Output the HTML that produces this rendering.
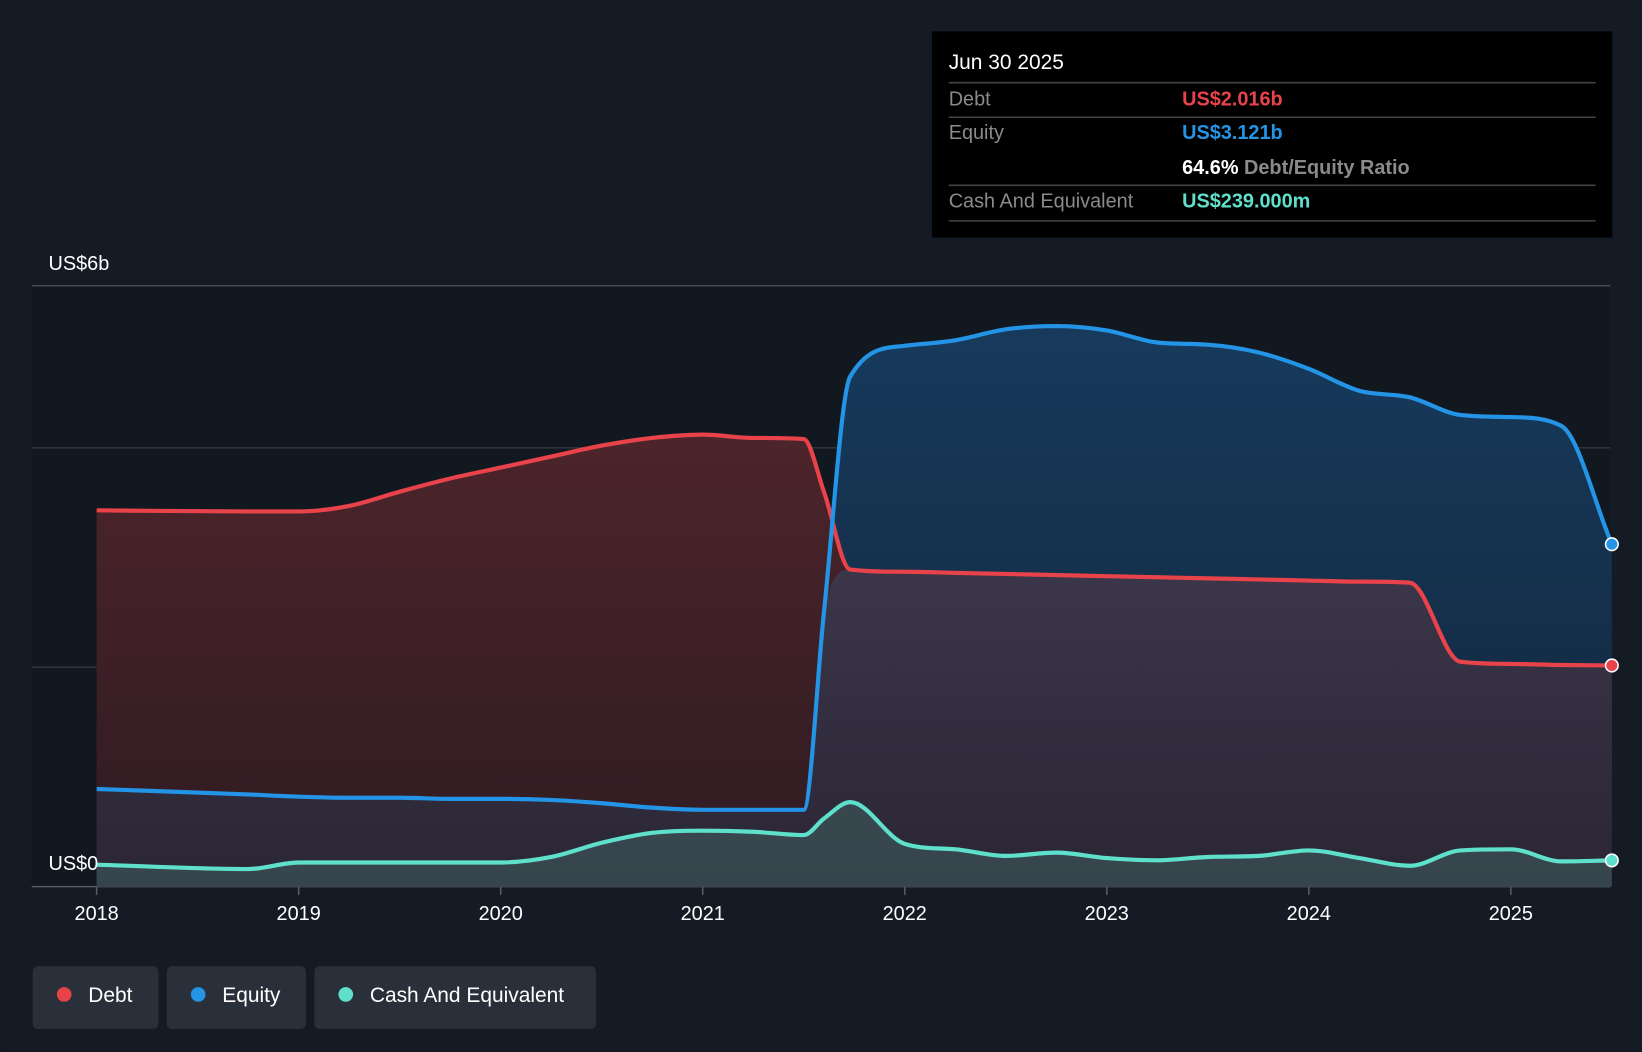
<!DOCTYPE html>
<html><head><meta charset="utf-8"><style>
html,body{margin:0;padding:0;background:#151b24;width:1642px;height:1052px;overflow:hidden}
svg{display:block;font-family:"Liberation Sans",sans-serif}
</style></head><body>
<svg id="chart" width="1642" height="1052" viewBox="0 0 1568 1005">
<defs>
<linearGradient id="gDebt" gradientUnits="userSpaceOnUse" x1="0" y1="415" x2="0" y2="847"><stop offset="0" stop-color="#4d242b"/><stop offset="1" stop-color="#2d1b21"/></linearGradient>
<linearGradient id="gEq" gradientUnits="userSpaceOnUse" x1="0" y1="310" x2="0" y2="847"><stop offset="0" stop-color="#173a5c"/><stop offset="1" stop-color="#11263a"/></linearGradient>
<linearGradient id="gBoth" gradientUnits="userSpaceOnUse" x1="0" y1="540" x2="0" y2="847"><stop offset="0" stop-color="#3b3649"/><stop offset="1" stop-color="#2a2635"/></linearGradient>
</defs>
<rect x="0" y="0" width="1568" height="1005" fill="#151b24"/>
<rect x="30" y="273" width="1508" height="574" fill="#121820"/>
<g id="grid"></g>
<g id="areas"></g>
<g id="lines"></g>
<g id="xaxis"></g>
<text x="46" y="258" fill="#fff" font-size="19">US$6b</text>
<text x="46" y="831" fill="#fff" font-size="19">US$0</text>
<g>
<rect x="890" y="30" width="650" height="197" fill="#000"/>
<text x="906" y="66" fill="#fff" font-size="20">Jun 30 2025</text>
<line x1="906" y1="79" x2="1524" y2="79" stroke="#444" stroke-width="1.5"/>
<text x="906" y="101" fill="#8a8a8a" font-size="19">Debt</text>
<text x="1129" y="101" fill="#e8434a" font-size="19" font-weight="bold">US$2.016b</text>
<line x1="906" y1="112" x2="1524" y2="112" stroke="#444" stroke-width="1.5"/>
<text x="906" y="133" fill="#8a8a8a" font-size="19">Equity</text>
<text x="1129" y="133" fill="#2394e6" font-size="19" font-weight="bold">US$3.121b</text>
<text x="1129" y="166" fill="#fff" font-size="19" font-weight="bold">64.6% <tspan fill="#8a8a8a">Debt/Equity Ratio</tspan></text>
<line x1="906" y1="177" x2="1524" y2="177" stroke="#444" stroke-width="1.5"/>
<text x="906" y="198" fill="#8a8a8a" font-size="19">Cash And Equivalent</text>
<text x="1129" y="198" fill="#5ee0cc" font-size="19" font-weight="bold">US$239.000m</text>
<line x1="906" y1="211" x2="1524" y2="211" stroke="#444" stroke-width="1.5"/>
</g>
<g>
<g><rect x="31" y="923" width="120" height="60" rx="5" fill="#2a3039"/><circle cx="61" cy="950" r="7" fill="#e8434a"/><text x="84" y="957" fill="#fff" font-size="20">Debt</text></g>
<g><rect x="159" y="923" width="133" height="60" rx="5" fill="#2a3039"/><circle cx="189" cy="950" r="7" fill="#2394e6"/><text x="212" y="957" fill="#fff" font-size="20">Equity</text></g>
<g><rect x="300" y="923" width="269" height="60" rx="5" fill="#2a3039"/><circle cx="330" cy="950" r="7" fill="#5ee0cc"/><text x="353" y="957" fill="#fff" font-size="20">Cash And Equivalent</text></g>
</g>
</svg>
<script>
const dates=[2018,2018.75,2019,2019.25,2019.5,2019.75,2020,2020.25,2020.5,2020.75,2021,2021.25,2021.5,2021.6,2021.73,2022,2022.25,2022.5,2022.75,2023,2023.25,2023.5,2023.75,2024,2024.25,2024.5,2024.75,2025,2025.25,2025.5];
const debt=[3.43,3.42,3.42,3.47,3.6,3.72,3.82,3.92,4.02,4.09,4.12,4.09,4.08,3.6,2.89,2.87,2.86,2.85,2.84,2.83,2.82,2.81,2.8,2.79,2.78,2.77,2.05,2.03,2.02,2.016];
const equity=[0.89,0.84,0.82,0.81,0.81,0.80,0.80,0.79,0.76,0.72,0.70,0.70,0.70,2.5,4.65,4.93,4.98,5.08,5.11,5.07,4.96,4.94,4.87,4.72,4.52,4.46,4.30,4.28,4.2,3.121];
const cash=[0.20,0.16,0.22,0.22,0.22,0.22,0.22,0.27,0.40,0.49,0.51,0.50,0.47,0.62,0.77,0.39,0.34,0.28,0.31,0.26,0.24,0.27,0.28,0.33,0.26,0.19,0.33,0.34,0.23,0.239];
const years=[2018,2019,2020,2021,2022,2023,2024,2025];
const X=t=>92+(t-2018)*193;
const Y=v=>847-v*104.8;
const NS='http://www.w3.org/2000/svg';
function mk(tag,attrs,parent){const e=document.createElementNS(NS,tag);for(const k in attrs)e.setAttribute(k,attrs[k]);parent.appendChild(e);return e;}
function mono(vals){
 const xs=dates.map(X),ys=vals.map(Y),n=xs.length,d=[],m=[];
 for(let i=0;i<n-1;i++)d.push((ys[i+1]-ys[i])/(xs[i+1]-xs[i]));
 m[0]=d[0];m[n-1]=d[n-2];
 for(let i=1;i<n-1;i++)m[i]=(d[i-1]*d[i]<=0)?0:(d[i-1]+d[i])/2;
 for(let i=0;i<n-1;i++){if(d[i]===0){m[i]=0;m[i+1]=0;continue;}const a=m[i]/d[i],b=m[i+1]/d[i],s=a*a+b*b;if(s>9){const t=3/Math.sqrt(s);m[i]=t*a*d[i];m[i+1]=t*b*d[i];}}
 let p='M'+xs[0]+','+ys[0];
 for(let i=0;i<n-1;i++){const h=(xs[i+1]-xs[i])/3;p+=' C'+(xs[i]+h)+','+(ys[i]+m[i]*h)+' '+(xs[i+1]-h)+','+(ys[i+1]-m[i+1]*h)+' '+xs[i+1]+','+ys[i+1];}
 return p;
}
const grid=document.getElementById('grid');
[0,2,4].forEach(v=>{const l=mk('line',{x1:30,x2:1538,y1:Y(v),y2:Y(v),stroke:v===0?'#555c66':'#2c333d','stroke-width':1.5},grid);

});
const tl=mk('line',{x1:30,x2:1538,y1:273,y2:273,stroke:'#444b55','stroke-width':1.5},grid);


const areas=document.getElementById('areas'),lines=document.getElementById('lines');
const base=' L'+X(2025.5)+',847 L'+X(2018)+',847 Z';
const eqA=mk('path',{d:mono(equity)+base,fill:'url(#gEq)'},areas);


const dA=mk('path',{d:mono(debt)+base,fill:'url(#gDebt)'},areas);


const both=debt.map((d,i)=>Math.min(d,equity[i]));
const bA=mk('path',{d:mono(both)+base,fill:'url(#gBoth)'},areas);


const cA=mk('path',{d:mono(cash)+base,fill:'#3f5a5e','fill-opacity':0.6},areas);


[[debt,'#e8434a','debt-line'],[equity,'#2394e6','equity-line'],[cash,'#5ee0cc','cash-line']].forEach(([v,c,n])=>{
 const p=mk('path',{d:mono(v),fill:'none',stroke:c,'stroke-width':4,'stroke-linejoin':'round'},lines);
 
 
 const dot=mk('circle',{cx:X(dates[dates.length-1]),cy:Y(v[v.length-1]),r:6,fill:c,stroke:'#fff','stroke-width':1.5},lines);
 
 
});
const xa=document.getElementById('xaxis');
years.forEach(y=>{
 const t=mk('line',{x1:X(y),x2:X(y),y1:847,y2:855,stroke:'#555c66','stroke-width':1.5},xa);
 
 
 const tx=mk('text',{x:X(y),y:879,fill:'#fff','font-size':19,'text-anchor':'middle'},xa);
 tx.textContent=y;
 
 
});
</script>
</body></html>
